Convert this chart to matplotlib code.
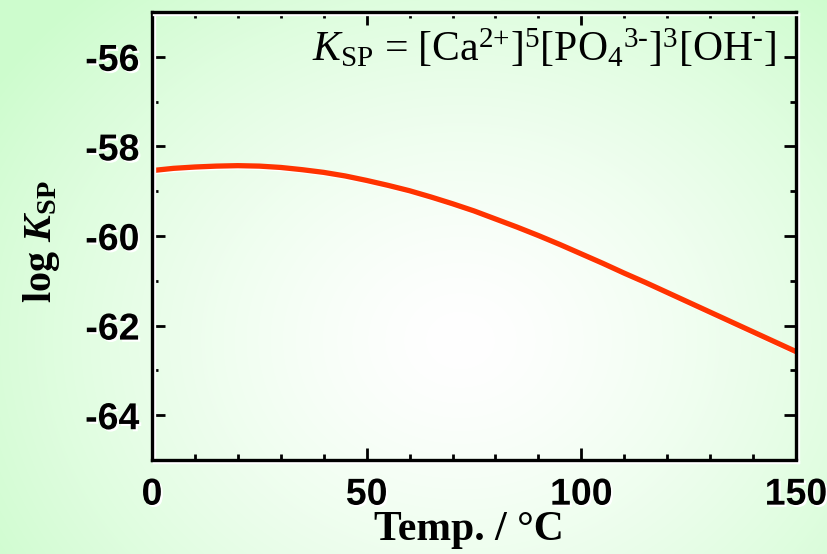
import numpy as np
import matplotlib.pyplot as plt
import matplotlib.patheffects as pe
from matplotlib.ticker import MultipleLocator

# solubility product of hydroxyapatite vs temperature
temp = [0, 5, 10, 15, 20, 25, 30, 35, 40, 45, 50, 55, 60, 65, 70, 75,
        80, 85, 90, 95, 100, 105, 110, 115, 120, 125, 130, 135, 140, 145, 150]
log_ksp = [-58.54, -58.49, -58.46, -58.44, -58.43, -58.44, -58.47, -58.52,
           -58.58, -58.66, -58.76, -58.87, -58.99, -59.13, -59.28, -59.44,
           -59.62, -59.80, -59.99, -60.19, -60.40, -60.61, -60.83, -61.04,
           -61.26, -61.48, -61.70, -61.92, -62.14, -62.36, -62.58]

x_ticks = [0, 50, 100, 150]
y_ticks = [-64, -62, -60, -58, -56]

plt.rcParams['font.family'] = ['Liberation Sans', 'DejaVu Sans']
plt.rcParams['axes.unicode_minus'] = False
plt.rcParams['mathtext.fontset'] = 'custom'
plt.rcParams['mathtext.rm'] = 'Liberation Serif'
plt.rcParams['mathtext.it'] = 'Liberation Serif:italic'
plt.rcParams['mathtext.bf'] = 'Liberation Serif:bold'
plt.rcParams['mathtext.bfit'] = 'Liberation Serif:italic:bold'

W, H = 827, 554
fig = plt.figure(figsize=(W / 100, H / 100), dpi=100)

# soft white-to-green wash behind everything
yy, xx = np.mgrid[0:H, 0:W]
r = np.sqrt(((xx - 460) / 560) ** 2 + ((yy - 340) / 470) ** 2)
t = (np.clip(r, 0, 1) ** 1.4)[..., None]
green = np.array([205, 252, 205]) / 255
img = (1 - t) * np.ones(3) + t * green
bg = fig.add_axes([0, 0, 1, 1], zorder=-1)
bg.imshow(img, aspect='auto', extent=(0, 1, 0, 1))
bg.axis('off')

ax = fig.add_axes([152 / W, 94 / H, 644 / W, 448 / H])
ax.patch.set_alpha(0)

ax.plot(temp, log_ksp, color='#ff3300', lw=3.8,
        path_effects=[pe.SimpleLineShadow(offset=(1, -1), shadow_color='white', alpha=1),
                      pe.Normal()])

ax.set_xlim(0, 150)
ax.set_ylim(-65, -55)
ax.set_xticks(x_ticks)
ax.set_yticks(y_ticks)
ax.xaxis.set_minor_locator(MultipleLocator(10))
ax.yaxis.set_minor_locator(MultipleLocator(1))

ax.tick_params(which='both', direction='in', top=True, right=True, width=2)
ax.tick_params(which='major', length=9)
ax.tick_params(which='minor', length=4.5)
ax.tick_params(axis='x', pad=12)
ax.tick_params(axis='y', pad=9)

shadow = [pe.withSimplePatchShadow(offset=(1.5, -1.5), shadow_rgbFace='white', alpha=1)]
for lab in ax.get_xticklabels() + ax.get_yticklabels():
    lab.set_fontsize(27)
    lab.set_fontweight('bold')
    lab.set_path_effects(shadow)

for sp in ax.spines.values():
    sp.set_linewidth(2.4)
    sp.set_path_effects([pe.SimpleLineShadow(offset=(1.5, -1.5), shadow_color='white', alpha=1),
                         pe.Normal()])

fig.text(469 / W, 1 - 530 / H, 'Temp. / °C', ha='center', va='center',
         family='Liberation Serif', fontweight='bold', fontsize=30)
fig.text(41 / W, 1 - 242 / H, r'log $\mathbfit{K}_{\mathbf{SP}}$', rotation=90,
         ha='center', va='center', family='Liberation Serif', fontweight='bold', fontsize=29)

ax.text(145.3, -56.1,
        r'$K_{\mathrm{SP}}$ = [Ca$^{2{+}}$]$^{5}$[PO$_{4}$$^{3‐}$]$^{3}$[OH$^{‐}$]',
        ha='right', va='baseline', family='Liberation Serif', fontsize=30)

fig.savefig('out.png', dpi=100)
